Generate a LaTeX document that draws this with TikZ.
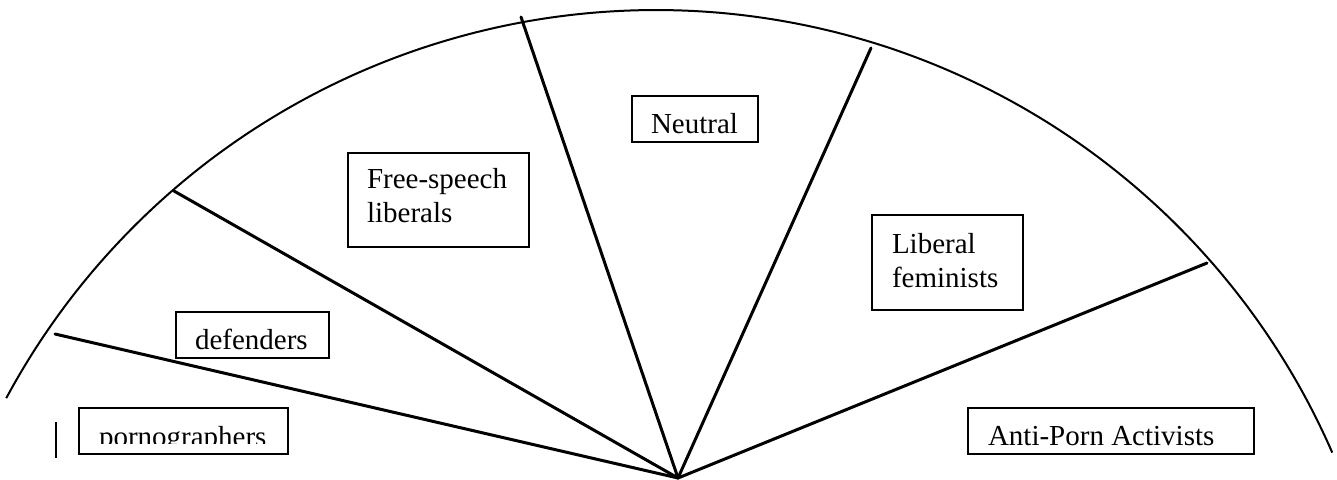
\documentclass[tikz,border=0pt]{standalone}
\usepackage{fontspec}
\setmainfont{Liberation Serif}
\begin{document}
\begin{tikzpicture}[x=0.5pt,y=-0.5pt,
  box/.style={draw, line width=1pt, inner sep=0pt, outer sep=0pt, anchor=north west},
  txt/.style={anchor=base west, inner sep=0pt, outer sep=0pt, font=\fontsize{14.5}{17}\selectfont},
  ray/.style={line width=1.5pt, line cap=round},
  rim/.style={line width=1pt}]
\useasboundingbox (0,0) rectangle (1337,479);
% hub and rim end points
\coordinate (c) at (678,478);
\coordinate (e1) at (55,334);
\coordinate (e2) at (174,191);
\coordinate (e3) at (521,17);
\coordinate (e4) at (871,48);
\coordinate (e5) at (1207,263);
% rim
\draw[rim] plot[domain=23.6:151.7, samples=120, smooth] ({656+738*cos(\x)},{748-738*sin(\x)});
% rays
\draw[ray] (c) -- (e1);
\draw[ray] (c) -- (e2);
\draw[ray] (c) -- (e3);
\draw[ray] (c) -- (e4);
\draw[ray] (c) -- (e5);
% small mark
\coordinate (m1) at (56,422);
\coordinate (m2) at (56,458);
\draw[line width=1.1pt] (m1) -- (m2);
% boxes
\node[box, minimum width=104.5pt, minimum height=23pt] (porn) at (79,408) {};
\node[box, minimum width=76.5pt, minimum height=23pt] (def) at (176,312) {};
\node[box, minimum width=90.5pt, minimum height=47pt] (free) at (348,153) {};
\node[box, minimum width=63pt, minimum height=23pt] (neu) at (632,96) {};
\node[box, minimum width=75.5pt, minimum height=47.5pt] (lib) at (872,215) {};
\node[box, minimum width=143pt, minimum height=23pt] (anti) at (968,408) {};
% texts
\begin{scope}
\clip (80,409) rectangle (287,443);
\node[txt] (tporn) at (99,446) {pornographers};
\end{scope}
\node[txt] (tdef) at (195,349) {defenders};
\node[txt] (tfree1) at (367,188) {Free-speech};
\node[txt] (tfree2) at (367,222) {liberals};
\node[txt] (tneu) at (651,133) {Neutral};
\node[txt] (tlib1) at (892,253) {Liberal};
\node[txt] (tlib2) at (892,287) {feminists};
\node[txt] (tanti) at (988,445) {Anti-Porn Activists};
\end{tikzpicture}
\end{document}
